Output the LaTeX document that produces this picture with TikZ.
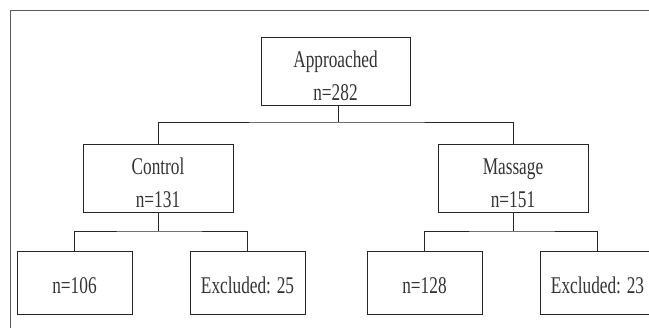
\documentclass[tikz,border=0pt]{standalone}
\usepackage{fontspec}
\setmainfont{Liberation Serif}[FakeStretch=0.72]
\newcommand\mystrutA{\rule{0pt}{26pt}}
\newcommand\mystrutB{\rule{0pt}{22pt}}
\begin{document}
\begin{tikzpicture}[x=1pt,y=-1pt,
  box/.style={draw=black!85,line width=0.9pt,align=center,inner sep=0pt,
    text=black!80,font=\fontsize{24}{33}\selectfont},
  bigbox/.style={box,minimum width=150pt,minimum height=68pt},
  smallbox/.style={box,minimum width=115pt,minimum height=63pt},
  link/.style={draw=black!85,line width=0.9pt}]
\useasboundingbox (0,0) rectangle (649,328);
\clip (0,0) rectangle (649,328);
\draw[black!65,line width=1.4pt] (10.7,10.7) rectangle (670,350);
\node[bigbox,minimum width=149pt] (A) at (335.5,71.5) {\mystrutA Approached\\n=282};
\node[bigbox] (C) at (158,178) {\mystrutA Control\\n=131};
\node[bigbox] (M) at (513,178) {\mystrutA Massage\\n=151};
\node[smallbox] (B1) at (74.5,282.5) {\mystrutB n=106};
\node[smallbox] (B2) at (247.5,282.5) {\mystrutB Excluded: 25};
\node[smallbox] (B3) at (424.5,282.5) {\mystrutB n=128};
\node[smallbox] (B4) at (597.5,282.5) {\mystrutB Excluded: 23};
\coordinate (j0) at (338,122);
\coordinate (j1) at (158,231);
\coordinate (j2) at (513,231);
\draw[link] (A.south -| j0) -- (j0);
\draw[link] (C.north) |- (j0) -| (M.north);
\draw[link] (C.south) -- (j1);
\draw[link] (B1.north) |- (j1) -| (B2.north);
\draw[link] (M.south) -- (j2);
\draw[link] (B3.north) |- (j2) -| (B4.north);
\end{tikzpicture}
\end{document}
